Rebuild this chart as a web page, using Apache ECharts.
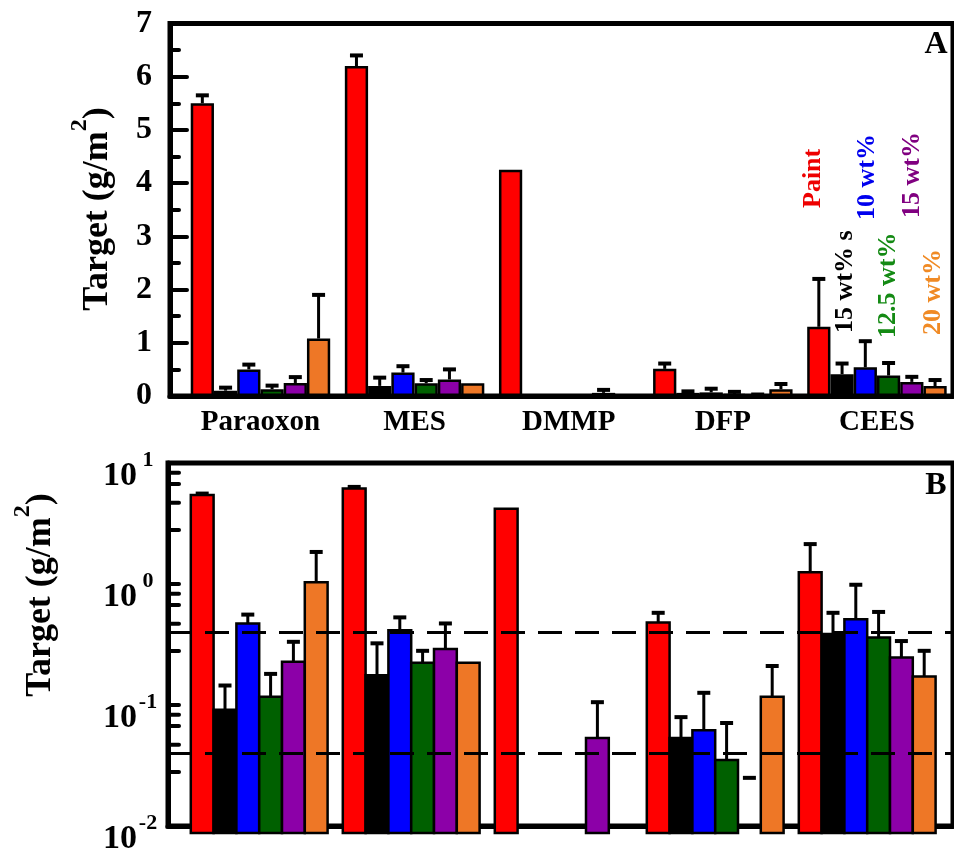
<!DOCTYPE html>
<html>
<head>
<meta charset="utf-8">
<script src="https://cdn.jsdelivr.net/npm/echarts@6/dist/echarts.min.js"></script>
<style>
  html, body { margin: 0; padding: 0; background: #fff; }
  #main { width: 954px; height: 856px; }
</style>
</head>
<body>
<div id="main"></div>
<script>
const categories = ['Paraoxon', 'MES', 'DMMP', 'DFP', 'CEES'];
const seriesNames = ['Paint', '15 wt% s', '10 wt%', '12.5 wt%', '15 wt%', '20 wt%'];
const barColors = ['#ff0000', '#000000', '#0000ff', '#006000', '#8c00a8', '#ee7726'];
const labelColors = ['#ee0000', '#000000', '#0000ee', '#148a14', '#800080', '#f08a24'];

// bar heights (g/m2) and top of the error bar, per target
const paint = [5.5, 6.2, 4.25, 0.51, 1.3];
const paintErr = [5.65, 6.4, null, 0.61, 2.2];
const wt15s = [0.1, 0.19, 0, 0.059, 0.41];
const wt15sErr = [0.157, 0.345, null, 0.087, 0.61];
const wt10 = [0.5, 0.44, 0, 0.068, 0.54];
const wt10Err = [0.59, 0.56, null, 0.137, 1.03];
const wt125 = [0.127, 0.24, 0, 0.039, 0.385];
const wt125Err = [0.195, 0.3, null, 0.078, 0.62];
const wt15 = [0.245, 0.31, 0.059, 0, 0.265];
const wt15Err = [0.355, 0.5, 0.115, 0.028, 0.36];
const wt20 = [1.08, 0.24, 0, 0.127, 0.186];
const wt20Err = [1.9, null, null, 0.226, 0.3];

const thresholds = [0.4, 0.04];
const logMinorTicks = [8.3, 6.7, 4.7, 2.8, 0.83, 0.67, 0.47, 0.28, 0.083, 0.067, 0.047, 0.028];

const values = [paint, wt15s, wt10, wt125, wt15, wt20];
const errTops = [paintErr, wt15sErr, wt10Err, wt125Err, wt15Err, wt20Err];

const FONT = 'Liberation Serif';
const gapA = 0.095;
const gapB = 0.10;

const chart = echarts.init(document.getElementById('main'));

function frameX(grid) {
  return {
    gridIndex: grid, type: 'value', min: 0, max: 1,
    axisLine: { show: true, lineStyle: { color: '#000', width: 5 } },
    axisTick: { show: false }, axisLabel: { show: false }, splitLine: { show: false }
  };
}

function errorSeries(k, xi, yi, gap, floor) {
  const data = [];
  values[k].forEach((v, i) => {
    if (errTops[k][i] != null) data.push([i, v > floor ? v : null, errTops[k][i]]);
  });
  return {
    type: 'custom', xAxisIndex: xi, yAxisIndex: yi, z: 6, silent: true,
    data: data,
    encode: { x: 0, y: 2 },
    renderItem: function (params, api) {
      const i = api.value(0);
      const v = api.value(1);
      const top = api.coord([i, api.value(2)]);
      const band = api.size([1, 0], [i, 1])[0];
      const w = band * (1 - gap) / 6;
      const cx = top[0] - band * (1 - gap) / 2 + (k + 0.5) * w;
      const children = [{
        type: 'line',
        shape: { x1: cx - 6.5, y1: top[1], x2: cx + 6.5, y2: top[1] },
        style: { stroke: '#000', lineWidth: 4 }
      }];
      if (!isNaN(v)) {
        const b = api.coord([i, v]);
        children.push({
          type: 'line',
          shape: { x1: cx, y1: b[1], x2: cx, y2: top[1] },
          style: { stroke: '#000', lineWidth: 3 }
        });
      }
      return { type: 'group', children: children };
    }
  };
}

function logBarSeries(k) {
  const data = [];
  values[k].forEach((v, i) => { if (v > 0) data.push([i, v]); });
  return {
    type: 'custom', name: seriesNames[k], xAxisIndex: 3, yAxisIndex: 3, z: 3, silent: true,
    data: data,
    encode: { x: 0, y: 1 },
    renderItem: function (params, api) {
      const i = api.value(0);
      const p = api.coord([i, api.value(1)]);
      const base = api.coord([i, 0.01]);
      const band = api.size([1, 0], [i, 1])[0];
      const w = band * (1 - gapB) / 6;
      const x0 = p[0] - band * (1 - gapB) / 2 + k * w;
      return {
        type: 'rect',
        shape: { x: x0, y: p[1], width: w, height: base[1] - p[1] },
        style: { fill: barColors[k], stroke: '#000', lineWidth: 2.5 }
      };
    }
  };
}

const series = [];
values.forEach((vals, k) => {
  series.push({
    type: 'bar', name: seriesNames[k], xAxisIndex: 1, yAxisIndex: 1,
    data: vals, barGap: '0%', barCategoryGap: (gapA * 100) + '%',
    itemStyle: { color: barColors[k], borderColor: '#000', borderWidth: 2.5 },
    silent: true
  });
});
values.forEach((vals, k) => series.push(errorSeries(k, 1, 1, gapA, -1)));
values.forEach((vals, k) => series.push(logBarSeries(k)));
values.forEach((vals, k) => series.push(errorSeries(k, 3, 3, gapB, 0)));

// minor ticks of the log axis, plus the dashed threshold lines
series.push({
  type: 'custom', xAxisIndex: 2, yAxisIndex: 2, z: 8, silent: true,
  data: logMinorTicks.map(v => [0, v]),
  encode: { x: 0, y: 1 },
  renderItem: function (params, api) {
    const p = api.coord([0, api.value(1)]);
    return {
      type: 'line',
      shape: { x1: p[0], y1: p[1], x2: p[0] + 11, y2: p[1] },
      style: { stroke: '#000', lineWidth: 4, lineCap: 'round' }
    };
  }
});
series.push({
  type: 'line', xAxisIndex: 2, yAxisIndex: 2, data: [], z: 9,
  markLine: {
    silent: true, symbol: 'none', label: { show: false },
    lineStyle: { color: '#000', width: 3, type: [24, 13] },
    data: thresholds.map(t => ({ yAxis: t }))
  }
});

const titleRich = {
  t: { fontFamily: FONT, fontWeight: 'bold', fontSize: 36, lineHeight: 48, verticalAlign: 'bottom' },
  s: { fontFamily: FONT, fontWeight: 'bold', fontSize: 24, lineHeight: 24, verticalAlign: 'top' }
};

const legendPos = [[813, 208], [845, 333], [867, 220], [888, 338], [912, 218], [933, 335]];

const graphic = [
  {
    type: 'text', x: 92, y: 209, rotation: Math.PI / 2, z: 10,
    style: { text: '{t|Target (g/m}{s|2}{t|)}', rich: titleRich, align: 'center', verticalAlign: 'middle', textAlign: 'center', textVerticalAlign: 'middle' }
  },
  {
    type: 'text', x: 35, y: 595, rotation: Math.PI / 2, z: 10,
    style: { text: '{t|Target (g/m}{s|2}{t|)}', rich: titleRich, align: 'center', verticalAlign: 'middle', textAlign: 'center', textVerticalAlign: 'middle' }
  },
  {
    type: 'text', x: 936, y: 45, z: 10,
    style: { text: 'A', font: 'bold 32px ' + FONT, fill: '#000', align: 'center', verticalAlign: 'middle', textAlign: 'center', textVerticalAlign: 'middle' }
  },
  {
    type: 'text', x: 936, y: 486, z: 10,
    style: { text: 'B', font: 'bold 32px ' + FONT, fill: '#000', align: 'center', verticalAlign: 'middle', textAlign: 'center', textVerticalAlign: 'middle' }
  }
];
seriesNames.forEach((name, k) => {
  graphic.push({
    type: 'text', x: legendPos[k][0], y: legendPos[k][1], rotation: Math.PI / 2, z: 10,
    style: { text: name, font: 'bold 26px ' + FONT, fill: labelColors[k], align: 'left', verticalAlign: 'middle', textAlign: 'left', textVerticalAlign: 'middle' }
  });
});

const option = {
  backgroundColor: '#fff',
  animation: false,
  grid: [
    { left: 170, right: 1, top: 23.5, bottom: 460, show: true, borderColor: '#000', borderWidth: 5 },
    { left: 183.4, width: 773, top: 23.5, bottom: 460 },
    { left: 168, right: 1, top: 463, bottom: 23, show: true, borderColor: '#000', borderWidth: 5 },
    { left: 183.2, width: 760, top: 463, bottom: 23 }
  ],
  xAxis: [
    frameX(0),
    {
      gridIndex: 1, type: 'category', data: categories,
      axisLine: { show: false }, axisTick: { show: false },
      axisLabel: { interval: 0, color: '#000', fontFamily: FONT, fontWeight: 'bold', fontSize: 29, margin: 12 }
    },
    frameX(2),
    {
      gridIndex: 3, type: 'category', data: categories,
      axisLine: { show: false }, axisTick: { show: false }, axisLabel: { show: false }
    }
  ],
  yAxis: [
    {
      gridIndex: 0, type: 'value', min: 0, max: 7, interval: 1,
      axisLine: { show: true, lineStyle: { color: '#000', width: 5 } },
      axisTick: { show: true, inside: true, length: 17, lineStyle: { color: '#000', width: 4, cap: 'round' } },
      minorTick: { show: true, splitNumber: 2, length: 9, lineStyle: { color: '#000', width: 4, cap: 'round' } },
      axisLabel: { color: '#000', fontFamily: FONT, fontWeight: 'bold', fontSize: 32, margin: 18, showMinLabel: true, showMaxLabel: true },
      splitLine: { show: false }
    },
    { gridIndex: 1, type: 'value', min: 0, max: 7, show: false },
    {
      gridIndex: 2, type: 'log', logBase: 10, min: 0.01, max: 10,
      axisLine: { show: true, lineStyle: { color: '#000', width: 5 } },
      axisTick: { show: true, inside: true, length: 11, lineStyle: { color: '#000', width: 4, cap: 'round' } },
      axisLabel: {
        color: '#000', margin: 9, showMinLabel: true, showMaxLabel: true, padding: [16, 0, 0, 0],
        formatter: v => '{b|10}{e|' + Math.round(Math.log10(v)) + '}',
        rich: {
          b: { fontFamily: FONT, fontWeight: 'bold', fontSize: 34, lineHeight: 44, verticalAlign: 'bottom' },
          e: { fontFamily: FONT, fontWeight: 'bold', fontSize: 22, lineHeight: 22, verticalAlign: 'top', width: 22, align: 'left' }
        }
      },
      splitLine: { show: false }
    },
    { gridIndex: 3, type: 'log', logBase: 10, min: 0.01, max: 10, show: false }
  ],
  graphic: graphic,
  series: series
};

chart.setOption(option);
</script>
</body>
</html>
